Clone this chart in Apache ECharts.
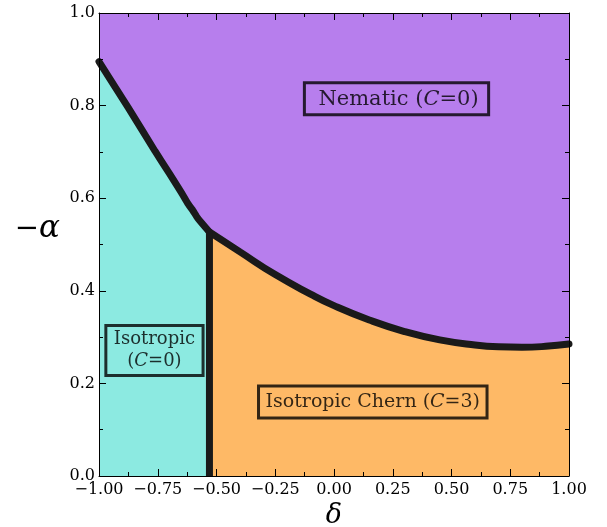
<!DOCTYPE html>
<html>
<head>
<meta charset="utf-8">
<script src="https://cdn.jsdelivr.net/npm/echarts@6/dist/echarts.min.js"></script>
<style>html,body{margin:0;padding:0;background:#fff}#c{width:607px;height:527px}</style>
</head>
<body>
<div id="c"></div>
<script>
// Upper boundary (isotropic / nematic), delta from -1 to the triple point
var upperDelta = [-1.0, -0.875, -0.762, -0.70, -0.648, -0.62, -0.60, -0.58, -0.53];
var upperAlpha = [0.895, 0.795, 0.702, 0.653, 0.611, 0.587, 0.573, 0.557, 0.527];
// Lower boundary (isotropic Chern / nematic)
var lowerDelta = [-0.53, -0.40, -0.25, -0.10, 0.0, 0.15, 0.30, 0.45, 0.60, 0.70, 0.80, 0.90, 1.0];
var lowerAlpha = [0.527, 0.484, 0.435, 0.393, 0.368, 0.337, 0.312, 0.294, 0.283, 0.279, 0.278, 0.280, 0.285];
// Vertical boundary between the two isotropic phases
var vertDelta = [-0.53, -0.53];
var vertAlpha = [0.0, 0.527];
// Region labels: name, delta, alpha
var labelNames = ['nem', 'chern', 'iso'];
var labelDelta = [0.266, 0.165, -0.764];
var labelAlpha = [0.815, 0.160, 0.271];

var FONT = 'DejaVu Serif';
var PURPLE = '#b77eed', CYAN = '#8ceae1', ORANGE = '#feb966', LINE = '#1a1a1a';

function zip(a, b) { return a.map(function (v, i) { return [v, b[i]]; }); }
function fmtX(v) { return (v < 0 ? '\u2212' : '') + Math.abs(v).toFixed(2); }
function fmtY(v) { return v.toFixed(1); }

var tickStyle = { show: true, inside: true, length: 7, lineStyle: { color: '#000', width: 1 } };
var minorStyle = { show: true, splitNumber: 2, length: 4, lineStyle: { color: '#000', width: 1 } };
var lineAxis = { show: true, onZero: false, lineStyle: { color: '#000', width: 1 } };
var labStyle = { fontFamily: FONT, fontSize: 16, color: '#000' };

function richFor(size) {
  return {
    t: { fontFamily: FONT, fontSize: size, color: '#000', lineHeight: size + 4 },
    i: { fontFamily: FONT, fontSize: size, fontStyle: 'italic', color: '#000', lineHeight: size + 4 }
  };
}
var labelDefs = {
  nem: { text: '{t|Nematic (}{i|C}{t|=0)}', size: 21, padding: [4, 10, 3, 14] },
  chern: { text: '{t|Isotropic Chern (}{i|C}{t|=3)}', size: 19, padding: [5, 7, 4, 7] },
  iso: { text: '{t|Isotropic}\n{t|(}{i|C}{t|=0)}', size: 18, padding: [3, 8, 3, 8] }
};

var labelData = labelNames.map(function (n, i) {
  var d = labelDefs[n];
  return {
    value: [labelDelta[i], labelAlpha[i]],
    label: {
      show: true, position: 'inside', formatter: d.text, rich: richFor(d.size),
      borderColor: '#000', borderWidth: 3, padding: d.padding, align: 'center'
    }
  };
});

var chart = echarts.init(document.getElementById('c'), null, { renderer: 'canvas' });
chart.setOption({
  animation: false,
  backgroundColor: '#fff',
  grid: { left: 99, right: 38, top: 13, bottom: 51, containLabel: false, outerBoundsMode: 'none' },
  xAxis: [{
    type: 'value', min: -1, max: 1, interval: 0.25, position: 'bottom', z: 10,
    axisLine: lineAxis, axisTick: tickStyle, minorTick: minorStyle, splitLine: { show: false },
    axisLabel: Object.assign({ formatter: fmtX, margin: 6 }, labStyle),
    name: 'δ', nameLocation: 'middle', nameGap: 21,
    nameTextStyle: { fontFamily: FONT, fontStyle: 'italic', fontSize: 27, color: '#000' }
  }, {
    type: 'value', min: -1, max: 1, interval: 0.25, position: 'top', z: 10,
    axisLine: lineAxis, axisTick: tickStyle, minorTick: minorStyle, splitLine: { show: false },
    axisLabel: { show: false }
  }],
  yAxis: [{
    type: 'value', min: 0, max: 1, interval: 0.2, position: 'left', z: 10,
    axisLine: lineAxis, axisTick: tickStyle, minorTick: minorStyle, splitLine: { show: false },
    axisLabel: Object.assign({ formatter: fmtY, margin: 4 }, labStyle),
    name: '{m|\u2212}{a|α}', nameLocation: 'middle', nameGap: 39, nameRotate: 0,
    nameTextStyle: {
      verticalAlign: 'bottom',
      rich: {
        m: { fontFamily: FONT, fontSize: 29, color: '#000' },
        a: { fontFamily: FONT, fontStyle: 'italic', fontSize: 31, color: '#000' }
      }
    }
  }, {
    type: 'value', min: 0, max: 1, interval: 0.2, position: 'right', z: 10,
    axisLine: lineAxis, axisTick: tickStyle, minorTick: minorStyle, splitLine: { show: false },
    axisLabel: { show: false }
  }],
  series: [
    { type: 'line', data: [[-1, 1], [1, 1]], symbol: 'none', lineStyle: { width: 0 },
      areaStyle: { color: PURPLE, opacity: 1 }, z: 1, silent: true },
    { type: 'line', data: zip(upperDelta, upperAlpha), symbol: 'none', smooth: 0.2,
      lineStyle: { width: 0 }, areaStyle: { color: CYAN, opacity: 1 }, z: 2, silent: true },
    { type: 'line', data: zip(lowerDelta, lowerAlpha), symbol: 'none', smooth: 0.5,
      lineStyle: { width: 0 }, areaStyle: { color: ORANGE, opacity: 1 }, z: 2, silent: true },
    { type: 'line', data: zip(upperDelta, upperAlpha), symbol: 'none', smooth: 0.2,
      lineStyle: { color: LINE, width: 7, cap: 'round' }, z: 3, silent: true },
    { type: 'line', data: zip(lowerDelta, lowerAlpha), symbol: 'none', smooth: 0.5,
      lineStyle: { color: LINE, width: 7, cap: 'round' }, z: 3, silent: true },
    { type: 'line', data: zip(vertDelta, vertAlpha), symbol: 'none',
      lineStyle: { color: LINE, width: 7 }, z: 3, silent: true },
    { type: 'scatter', data: labelData, symbolSize: 1, itemStyle: { color: 'rgba(0,0,0,0)' },
      z: 5, silent: true }
  ]
});
</script>
</body>
</html>
